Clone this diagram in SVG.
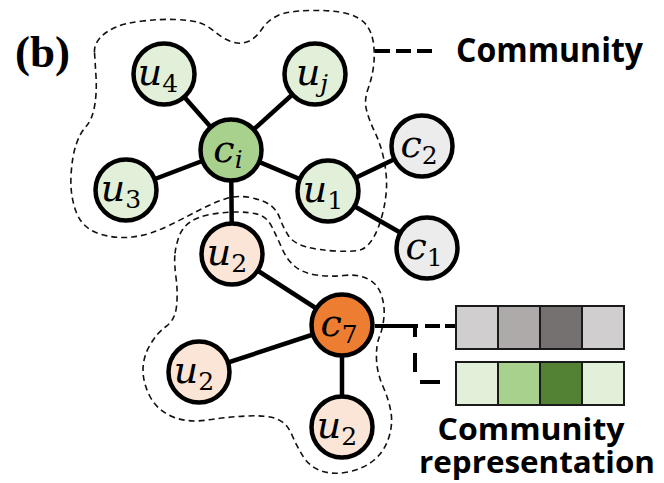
<svg xmlns="http://www.w3.org/2000/svg" width="664" height="483" viewBox="0 0 664 483">
  <style>
    .blob { fill: none; stroke: #111; stroke-width: 1.6; stroke-dasharray: 6 4; }
    .edge { stroke: #000; stroke-width: 4.5; fill: none; }
    .node { stroke: #000; stroke-width: 4.5; }
    .g-light { fill: #e2f0d9; }
    .g-mid { fill: #a9d18e; }
    .gray { fill: #ececec; }
    .o-light { fill: #fbe5d6; }
    .o-dark { fill: #ed7d31; }
    .lbl { font-family: "DejaVu Serif", serif; font-style: italic; font-size: 38px; fill: #000; text-anchor: middle; }
    .sub { font-size: 25px; font-style: normal; }
    .subi { font-size: 25px; font-style: italic; }
    .title { font-family: "Open Sans", "Noto Sans", sans-serif; font-weight: 700; font-size: 34px; fill: #000; }
    .title2 { font-family: "Open Sans", "Noto Sans", sans-serif; font-weight: 700; font-size: 30px; fill: #000; text-anchor: middle; }
    .cell { stroke: #1a1a1a; stroke-width: 2; }
    .dash { stroke: #000; stroke-width: 4; fill: none; }
  </style>

  <!-- panel tag -->
  <text x="15" y="67" font-family="Liberation Serif, serif" font-weight="700" font-size="45">(b)</text>

  <!-- community outlines -->
  <g id="communities">
    <path class="blob" d="M94.5,52.5 Q94,45 99.5,38.5 Q105,32 115,27.5 Q125,23 142.5,21 Q160,19 175,19.5 Q190,20 198.5,22.5 Q207,25 214.5,31.5 Q222,38 231,41.5 Q240,45 248,41.5 Q256,38 262,29 Q268,20 278,15.5 Q288,11 310.5,10.5 Q333,10 346.5,13.5 Q360,17 366,24.5 Q372,32 373.5,43.5 Q375,55 373.5,66.5 Q372,78 368,89 Q364,100 366.5,110 Q369,120 375,132.5 Q381,145 384,160 Q387,175 386.5,187.5 Q386,200 382.5,214 Q379,228 373.5,237.5 Q368,247 361.5,249.5 Q355,252 336,251 Q317,250 305,246.5 Q293,243 288,235 Q283,227 280,218.5 Q277,210 270,205 Q263,200 250,197.5 Q237,195 225,199 Q213,203 201.5,209 Q190,215 170,225 Q150,235 132.5,237 Q115,239 98.5,233.5 Q82,228 76,211.5 Q70,195 71,176 Q72,157 76,145 Q80,133 86,126.5 Q92,120 94.5,106.5 Q97,93 96,76.5 Q95,60 94.5,52.5 Z"/>
    <path class="blob" d="M175,253.5 Q176,245 179,236.5 Q182,228 189.5,222.5 Q197,217 210,214.5 Q223,212 236.5,212 Q250,212 258.5,214.5 Q267,217 272,227 Q277,237 282,248.5 Q287,260 295,266.5 Q303,273 316.5,275 Q330,277 343.5,275.5 Q357,274 367,278.5 Q377,283 381,294 Q385,305 384,316.5 Q383,328 379.5,336.5 Q376,345 376.5,359 Q377,373 383,386.5 Q389,400 391,412.5 Q393,425 388.5,438.5 Q384,452 373.5,460.5 Q363,469 348,472 Q333,475 321.5,471 Q310,467 303.5,457 Q297,447 292,435 Q287,423 277,419 Q267,415 247,416 Q227,417 207,420 Q187,423 172,416.5 Q157,410 150,396.5 Q143,383 143,370 Q143,357 150,345 Q157,333 166,326.5 Q175,320 176.5,306.5 Q178,293 176,277.5 Q174,262 175,253.5 Z"/>
  </g>

  <!-- edges -->
  <g id="connectors">
    <line class="edge" x1="231" y1="150" x2="164" y2="74"/>
    <line class="edge" x1="231" y1="150" x2="315" y2="74"/>
    <line class="edge" x1="231" y1="150" x2="126" y2="190"/>
    <line class="edge" x1="231" y1="150" x2="328" y2="191"/>
    <line class="edge" x1="231" y1="150" x2="232" y2="254"/>
    <line class="edge" x1="328" y1="191" x2="422" y2="146"/>
    <line class="edge" x1="328" y1="191" x2="427" y2="248"/>
    <line class="edge" x1="232" y1="254" x2="342" y2="325"/>
    <line class="edge" x1="342" y1="325" x2="199" y2="372"/>
    <line class="edge" x1="342" y1="325" x2="342" y2="427"/>
    <!-- legend line and representation links -->
    <line class="dash" x1="375" y1="51" x2="437" y2="51" stroke-dasharray="15 6"/>
    <path class="dash" d="M375,326 H455" stroke-dasharray="43 7 15 5 10"/>
    <path class="dash" d="M415,326 V382 H455" stroke-dasharray="11 16 19 15 20 15"/>
  </g>

  <!-- nodes -->
  <g id="u4"><circle class="node g-light" cx="164" cy="74" r="30.5"/><text class="lbl" x="158" y="85">u<tspan class="sub" dy="7">4</tspan></text></g>
  <g id="uj"><circle class="node g-light" cx="315" cy="74" r="30.5"/><text class="lbl" x="312" y="85">u<tspan class="subi" dy="7">j</tspan></text></g>
  <g id="ci"><circle class="node g-mid" cx="231" cy="150" r="30.5"/><text class="lbl" x="228" y="162">c<tspan class="subi" dy="6">i</tspan></text></g>
  <g id="u3"><circle class="node g-light" cx="126" cy="190" r="30.5"/><text class="lbl" x="121" y="201">u<tspan class="sub" dy="7">3</tspan></text></g>
  <g id="u1"><circle class="node g-light" cx="328" cy="191" r="30.5"/><text class="lbl" x="323" y="202">u<tspan class="sub" dy="7">1</tspan></text></g>
  <g id="c2"><circle class="node gray" cx="422" cy="146" r="30.5"/><text class="lbl" x="419" y="157">c<tspan class="sub" dy="7">2</tspan></text></g>
  <g id="c1"><circle class="node gray" cx="427" cy="248" r="30.5"/><text class="lbl" x="424" y="259">c<tspan class="sub" dy="7">1</tspan></text></g>
  <g id="u2-top"><circle class="node o-light" cx="232" cy="254" r="30.5"/><text class="lbl" x="227" y="265">u<tspan class="sub" dy="7">2</tspan></text></g>
  <g id="c7"><circle class="node o-dark" cx="342" cy="325" r="30.5"/><text class="lbl" x="339" y="336">c<tspan class="sub" dy="7">7</tspan></text></g>
  <g id="u2-left"><circle class="node o-light" cx="199" cy="372" r="30.5"/><text class="lbl" x="194" y="383">u<tspan class="sub" dy="7">2</tspan></text></g>
  <g id="u2-bottom"><circle class="node o-light" cx="342" cy="427" r="30.5"/><text class="lbl" x="337" y="438">u<tspan class="sub" dy="7">2</tspan></text></g>

  <!-- legend label -->
  <g id="community-label">
    <text class="title" x="456" y="62" textLength="187" lengthAdjust="spacingAndGlyphs">Community</text>
  </g>

  <!-- community representation vectors -->
  <g id="repr-gray">
    <rect class="cell" x="456" y="306" width="42" height="43" fill="#d0cece"/>
    <rect class="cell" x="498" y="306" width="42" height="43" fill="#aeaaaa"/>
    <rect class="cell" x="540" y="306" width="42" height="43" fill="#767171"/>
    <rect class="cell" x="582" y="306" width="42" height="43" fill="#d0cece"/>
  </g>
  <g id="repr-green">
    <rect class="cell" x="456" y="362" width="42" height="43" fill="#e2f0d9"/>
    <rect class="cell" x="498" y="362" width="42" height="43" fill="#a9d18e"/>
    <rect class="cell" x="540" y="362" width="42" height="43" fill="#548235"/>
    <rect class="cell" x="582" y="362" width="42" height="43" fill="#e2f0d9"/>
  </g>
  <g id="repr-label">
    <text class="title2" x="531" y="440" textLength="187" lengthAdjust="spacingAndGlyphs">Community</text>
    <text class="title2" x="537" y="473" textLength="236" lengthAdjust="spacingAndGlyphs">representation</text>
  </g>
</svg>
